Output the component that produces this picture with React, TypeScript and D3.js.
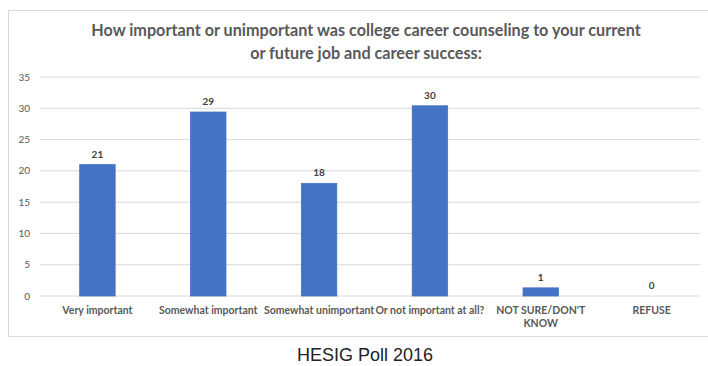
import React from "react";
import * as d3 from "d3";

const categories = [
  "Very important",
  "Somewhat important",
  "Somewhat unimportant",
  "Or not important at all?",
  "NOT SURE/DON'T KNOW",
  "REFUSE",
];
const categoryLines = [
  ["Very important"],
  ["Somewhat important"],
  ["Somewhat unimportant"],
  ["Or not important at all?"],
  ["NOT SURE/DON'T", "KNOW"],
  ["REFUSE"],
];
const values = [21, 29.4, 18, 30.4, 1.3, 0];
const yTicks = [0, 5, 10, 15, 20, 25, 30, 35];
const titleLines = [
  "How important or unimportant was college career counseling to your current",
  "or future job and career success:",
];
const caption = "HESIG Poll 2016";

const W = 708;
const H = 366;

export default function App() {
  const x = d3
    .scaleBand<string>()
    .domain(categories)
    .range([42, 707])
    .paddingInner(0.68)
    .paddingOuter(0.34);
  const y = d3.scaleLinear().domain([0, 35]).range([296, 77]);
  const fmt = d3.format(".0f");
  const font = "Lato, 'Open Sans', sans-serif";

  return (
    <svg
      width={W}
      height={H}
      style={{ position: "absolute", left: 0, top: 0, background: "#fff" }}
    >
      <rect x={8.5} y={10.5} width={710} height={326} fill="#fff" stroke="#d9d9d9" />
      {titleLines.map((t, i) => (
        <text
          key={i}
          x={366}
          y={36 + i * 23}
          textAnchor="middle"
          fontFamily={font}
          fontWeight="bold"
          fontSize={16.2}
          fill="#595959"
        >
          {t}
        </text>
      ))}
      {yTicks.map((t) => (
        <g key={t}>
          <line x1={40} x2={700} y1={y(t)} y2={y(t)} stroke="#d9d9d9" strokeWidth={1} />
          <text
            x={30}
            y={y(t)}
            dy="0.35em"
            textAnchor="end"
            fontFamily={font}
            fontSize={10}
            fill="#595959"
          >
            {t}
          </text>
        </g>
      ))}
      {categories.map((c, i) => {
        const v = values[i];
        const bx = x(c)!;
        const bw = x.bandwidth();
        return (
          <g key={c}>
            <rect
              x={bx}
              y={y(v)}
              width={bw}
              height={y(0) - y(v)}
              fill="#4472C4"
              stroke="#4472C4"
              strokeWidth={0.8}
            />
            <text
              x={bx + bw / 2}
              y={y(v) - 7}
              textAnchor="middle"
              fontFamily={font}
              fontWeight="bold"
              fontSize={10}
              fill="#404040"
            >
              {fmt(v)}
            </text>
            {categoryLines[i].map((l, j) => (
              <text
                key={j}
                x={bx + bw / 2}
                y={314 + j * 13}
                textAnchor="middle"
                fontFamily={font}
                fontWeight="bold"
                fontSize={10.5}
                fill="#595959"
              >
                {l}
              </text>
            ))}
          </g>
        );
      })}
      <text
        x={365}
        y={361}
        textAnchor="middle"
        fontFamily="'Liberation Sans', Arial, sans-serif"
        fontSize={18}
        fill="#222"
      >
        {caption}
      </text>
    </svg>
  );
}
